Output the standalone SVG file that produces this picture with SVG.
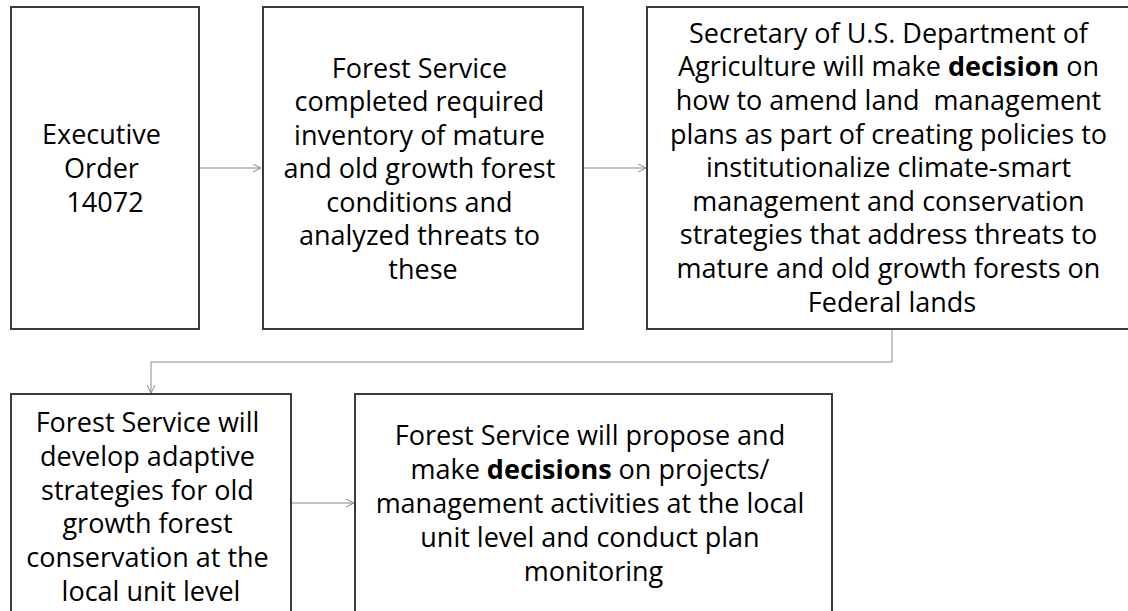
<svg xmlns="http://www.w3.org/2000/svg" width="1128" height="611" viewBox="0 0 1128 611">
  <style>
    .box { fill: #ffffff; stroke: #3a3a3a; stroke-width: 2; }
    .lbl { font-family: "Open Sans", Lato, "Liberation Sans", sans-serif; font-size: 27px; fill: #000000; text-anchor: middle; }
    .lbl .b { font-weight: bold; }
    .conn { fill: none; stroke: #8a8a8a; stroke-width: 1; }
  </style>
  <defs>
    <marker id="open-arrow" markerWidth="10" markerHeight="10" refX="8" refY="4" orient="auto" markerUnits="userSpaceOnUse">
      <path d="M0,0 L8,4 L0,8" fill="none" stroke="#8a8a8a" stroke-width="1"/>
    </marker>
  </defs>
  <rect width="1128" height="611" fill="#ffffff"/>

  <g id="connectors">
    <path class="conn" d="M199,168 H261" marker-end="url(#open-arrow)"/>
    <path class="conn" d="M583,168 H646" marker-end="url(#open-arrow)"/>
    <path class="conn" d="M892,330 V362 H151 V393" marker-end="url(#open-arrow)"/>
    <path class="conn" d="M291,503 H354" marker-end="url(#open-arrow)"/>
  </g>

  <g id="executive-order">
    <rect class="box" x="11" y="7" width="188" height="322"/>
    <text class="lbl">
      <tspan x="105" y="144">Executive</tspan>
      <tspan x="105" y="178">Order</tspan>
      <tspan x="105" y="212">14072</tspan>
    </text>
  </g>

  <g id="inventory">
    <rect class="box" x="263" y="7" width="320" height="322"/>
    <text class="lbl">
      <tspan x="423" y="77.5">Forest Service</tspan>
      <tspan x="423" y="111">completed required</tspan>
      <tspan x="423" y="144.5">inventory of mature</tspan>
      <tspan x="423" y="178">and old growth forest</tspan>
      <tspan x="423" y="211.5">conditions and</tspan>
      <tspan x="423" y="245">analyzed threats to</tspan>
      <tspan x="423" y="278.5">these</tspan>
    </text>
  </g>

  <g id="secretary-decision">
    <rect class="box" x="647" y="7" width="492" height="322"/>
    <text class="lbl">
      <tspan x="892" y="42.7">Secretary of U.S. Department of</tspan>
      <tspan x="892" y="76.3">Agriculture will make <tspan class="b">decision</tspan> on</tspan>
      <tspan x="892" y="109.9">how to amend land &#160;management</tspan>
      <tspan x="892" y="143.5">plans as part of creating policies to</tspan>
      <tspan x="892" y="177.1">institutionalize climate-smart</tspan>
      <tspan x="892" y="210.7">management and conservation</tspan>
      <tspan x="892" y="244.3">strategies that address threats to</tspan>
      <tspan x="892" y="277.9">mature and old growth forests on</tspan>
      <tspan x="892" y="311.5">Federal lands</tspan>
    </text>
  </g>

  <g id="adaptive-strategies">
    <rect class="box" x="11" y="394" width="280" height="230"/>
    <text class="lbl">
      <tspan x="151" y="432">Forest Service will</tspan>
      <tspan x="151" y="465.8">develop adaptive</tspan>
      <tspan x="151" y="499.6">strategies for old</tspan>
      <tspan x="151" y="533.4">growth forest</tspan>
      <tspan x="151" y="567.2">conservation at the</tspan>
      <tspan x="151" y="601">local unit level</tspan>
    </text>
  </g>

  <g id="project-decisions">
    <rect class="box" x="355" y="394" width="477" height="230"/>
    <text class="lbl">
      <tspan x="593.5" y="445">Forest Service will propose and</tspan>
      <tspan x="593.5" y="479">make <tspan class="b">decisions</tspan> on projects/</tspan>
      <tspan x="593.5" y="513">management activities at the local</tspan>
      <tspan x="593.5" y="547">unit level and conduct plan</tspan>
      <tspan x="593.5" y="581">monitoring</tspan>
    </text>
  </g>
</svg>
